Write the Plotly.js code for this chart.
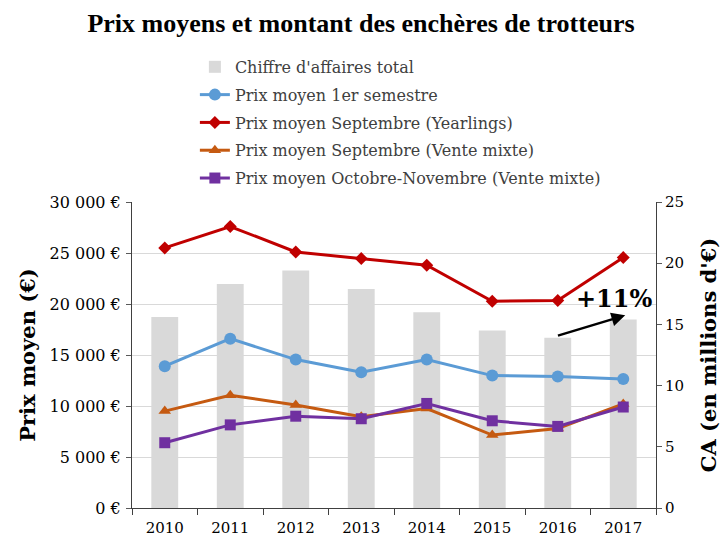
<!DOCTYPE html>
<html>
<head>
<meta charset="utf-8">
<script src="https://cdn.plot.ly/plotly-3.0.1.min.js"></script>
<style>html,body{margin:0;padding:0;background:#fff;}#chart{width:722px;height:538px;}</style>
</head>
<body>
<div id="chart"></div>
<script>
// ---- data ----
var years = ["2010","2011","2012","2013","2014","2015","2016","2017"];
var caTotal = [15.6, 18.3, 19.4, 17.9, 16.0, 14.5, 13.9, 15.4];           // millions €
var prix1erSemestre = [13900, 16600, 14550, 13300, 14550, 12980, 12900, 12650];
var prixSeptYearlings = [25500, 27600, 25100, 24450, 23800, 20270, 20350, 24550];
var prixSeptMixte = [9500, 11050, 10100, 8950, 9750, 7150, 7800, 10200];
var prixOctNovMixte = [6400, 8150, 9000, 8750, 10250, 8550, 8000, 9900];
var seriesNames = ["Chiffre d'affaires total","Prix moyen 1er semestre","Prix moyen Septembre (Yearlings)","Prix moyen Septembre (Vente mixte)","Prix moyen Octobre-Novembre (Vente mixte)"];

var serif = "DejaVu Serif, Liberation Serif, serif";

function lineTrace(name, vals, color, symbol, size, grp){
  return {type:'scatter', mode:'lines+markers', name:name, x:years, y:vals, yaxis:'y2',
    legendgroup:grp,
    line:{color:color, width:3}, marker:{color:color, symbol:symbol, size:size}};
}

var data = [
  {type:'bar', name:seriesNames[0], x:years, y:caTotal, yaxis:'y', marker:{color:'#d9d9d9'}, legendgroup:'g0'},
  lineTrace(seriesNames[1], prix1erSemestre, '#5b9bd5', 'circle', 12, 'g1'),
  lineTrace(seriesNames[2], prixSeptYearlings, '#c00000', 'diamond', 10, 'g2'),
  lineTrace(seriesNames[3], prixSeptMixte, '#c55a11', 'triangle-up', 11, 'g3'),
  lineTrace(seriesNames[4], prixOctNovMixte, '#7030a0', 'square', 11, 'g4')
];

var layout = {
  width:722, height:538,
  margin:{l:132, r:66, t:202, b:30},
  paper_bgcolor:'#ffffff', plot_bgcolor:'rgba(0,0,0,0)',
  separators:', ',
  font:{family:serif, color:'#000000', size:16},
  title:{text:'<b>Prix moyens et montant des enchères de trotteurs</b>', font:{family:'Liberation Serif', size:26, color:'#000'}, x:0.5, xanchor:'center', y:0.958, yanchor:'middle'},
  bargap:0.59,
  showlegend:true,
  legend:{x:0.12, xanchor:'left', y:1.497, yanchor:'top', font:{family:serif, size:16, color:'#404040'}, tracegroupgap:4, traceorder:'grouped', bgcolor:'rgba(0,0,0,0)'},
  xaxis:{type:'category', range:[-0.5,7.5], showline:true, linecolor:'#404040', linewidth:1, ticks:'outside', tickson:'boundaries', ticklen:6, tickcolor:'#404040', showgrid:false, ticklabelstandoff:6, tickfont:{family:serif, size:15, color:'#000'}},
  yaxis:{side:'right', range:[0,25], dtick:5, showgrid:false, showline:true, linecolor:'#404040', ticks:'outside', ticklen:5, tickcolor:'#595959', zeroline:false,
    tickfont:{family:serif, size:15, color:'#000'},
    title:{text:"<b>CA (en millions d'€)</b>", font:{family:serif, size:21, color:'#000'}, standoff:18}},
  yaxis2:{overlaying:'y', side:'left', range:[0,30000], dtick:5000, tickformat:',.0f', ticksuffix:' €', showgrid:true, gridcolor:'#d9d9d9', gridwidth:1, showline:true, linecolor:'#404040', ticks:'outside', ticklen:5, tickcolor:'#595959', zeroline:false,
    tickfont:{family:serif, size:16, color:'#000'}, ticklabelstandoff:2,
    title:{text:'<b>Prix moyen (€)</b>', font:{family:serif, size:21, color:'#000'}, standoff:8}},
  annotations:[
    {xref:'x', yref:'y', x:7.03, y:15.74, axref:'x', ayref:'y', ax:5.98, ay:14.05, showarrow:true, arrowhead:2, arrowsize:1.1, arrowwidth:2.5, arrowcolor:'#000', text:''},
    {xref:'x', yref:'y', x:6.86, y:17.15, text:'<b>+11%</b>', showarrow:false, font:{family:serif, size:24, color:'#000'}}
  ]
};

Plotly.newPlot('chart', data, layout, {displayModeBar:false, staticPlot:true});
</script>
</body>
</html>
